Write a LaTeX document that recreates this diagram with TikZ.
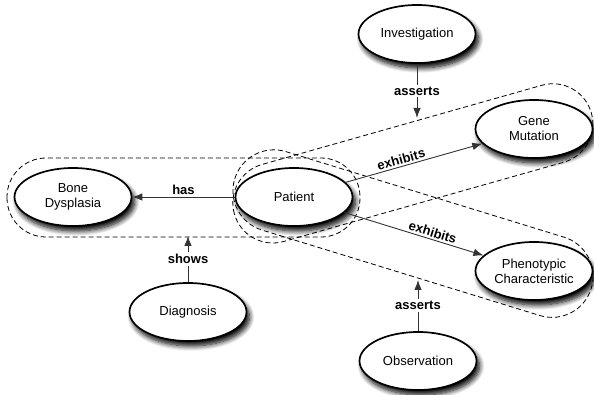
\documentclass[tikz,border=0pt]{standalone}
\usepackage{fontspec}
\setmainfont{Liberation Sans}
\usetikzlibrary{shapes.geometric,arrows.meta,shadows.blur}
\begin{document}
\begin{tikzpicture}[x=1pt,y=1pt,
  concept/.style={ellipse,draw=black,line width=1.7pt,fill=white,
    minimum width=117pt,minimum height=58pt,inner sep=0pt,align=center,
    font=\fontsize{13}{15}\selectfont,
    blur shadow={shadow xshift=3pt,shadow yshift=-5pt,shadow blur radius=5pt,shadow opacity=100,shadow blur steps=8}},
  rel/.style={draw=black!80,line width=0.9pt,-{Latex[length=10pt,width=7.5pt]}},
  rellabel/.style={font=\bfseries\fontsize{13}{15}\selectfont,inner sep=2pt},
  group/.style={draw=black,dash pattern=on 5pt off 3pt,line width=0.8pt}]
\useasboundingbox (0,0) rectangle (594,395);

% dashed groupings
\draw[group,rounded corners=39pt] (7,158) rectangle (360,237);
\begin{scope}[shift={(294,198)},rotate=15.8]
  \draw[group,rounded corners=40pt] (-62,-40) rectangle (309,40);
\end{scope}
\begin{scope}[shift={(294,198)},rotate=-17.1]
  \draw[group,rounded corners=41pt] (-62,-41) rectangle (311,41);
\end{scope}

% nodes
\node[concept] (inv)  at (417,361) {Investigation};
\node[concept] (gene) at (534,266) {Gene\\Mutation};
\node[concept] (pat)  at (294,198) {Patient};
\node[concept] (bone) at (73,198)  {Bone\\Dysplasia};
\node[concept] (diag) at (188,83)  {Diagnosis};
\node[concept] (phen) at (534,124) {Phenotypic\\Characteristic};
\node[concept] (obs)  at (418,34)  {Observation};

\coordinate (invtip) at (417,277);
\coordinate (diagtip) at (188,159);
\coordinate (obstip) at (418,115);

% connectors
\draw[rel] (pat) -- node[rellabel,above] {has} (bone);
\draw[rel] (pat) -- node[rellabel,above,sloped,pos=0.42] {exhibits} (gene);
\draw[rel] (pat) -- node[rellabel,above,sloped,pos=0.62] {exhibits} (phen);
\draw[rel] (inv) -- node[rellabel,fill=white,midway] {asserts} (invtip);
\draw[rel] (diag) -- node[rellabel,fill=white,midway] {shows} (diagtip);
\draw[rel] (obs) -- node[rellabel,fill=white,midway] {asserts} (obstip);
\end{tikzpicture}
\end{document}
